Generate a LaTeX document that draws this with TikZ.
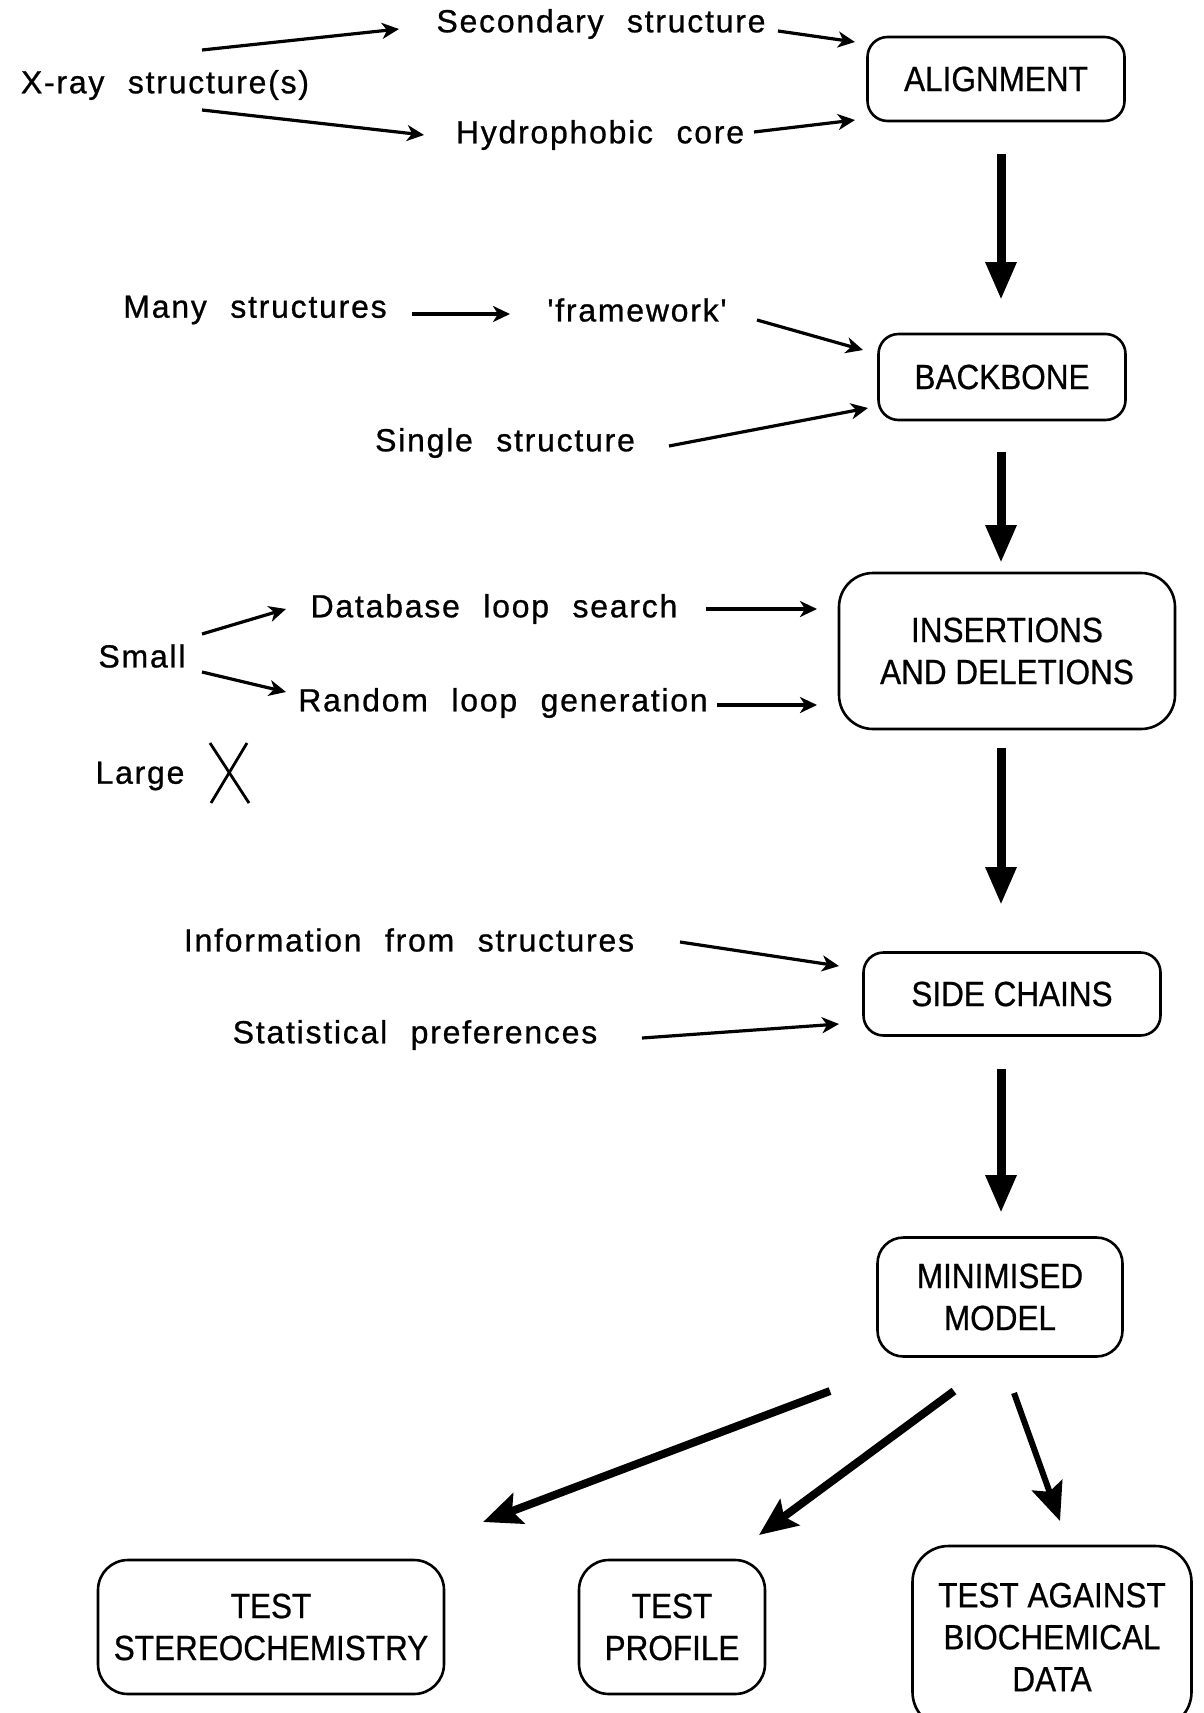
\documentclass[tikz,border=0pt]{standalone}
\usepackage{fontspec}
\setmainfont{Liberation Sans}
\newfontfamily\lblfont[LetterSpace=5.5,WordSpace=2.2,FakeBold=0.8]{Liberation Sans}
\newfontfamily\boxfont[FakeStretch=0.9,FakeBold=0.6]{Liberation Sans}
\usetikzlibrary{arrows.meta}

\begin{document}
\begin{tikzpicture}[x=1pt,y=-1pt,
  lbl/.style={font={\lblfont\fontsize{32}{36}\selectfont}, inner sep=0pt},
  stage/.style={draw, line width=2.6pt, rounded corners=20pt,
    font={\boxfont\fontsize{35}{42}\selectfont}, align=center, inner sep=0pt},
  feed/.style={line width=3.2pt, -{Stealth[length=17pt,width=16pt,inset=5pt]}},
  flow/.style={line width=9pt, -{Triangle[length=38pt,width=29pt]}},
  branch/.style={line width=8pt, -{Stealth[length=38pt,width=32pt,inset=7pt]}},
  cross/.style={line width=2.8pt}
]
\useasboundingbox (0,0) rectangle (1203,1713);
\clip (0,0) rectangle (1203,1713);
\fill[white] (0,0) rectangle (1203,1713);

% main stages
\node[stage, minimum width=257pt, minimum height=84pt] (align) at (996,79) {ALIGNMENT};
\node[stage, minimum width=247pt, minimum height=86pt] (backbone) at (1002,377) {BACKBONE};
\node[stage, minimum width=336pt, minimum height=156pt, rounded corners=34pt] (indel) at (1007,651) {INSERTIONS\\AND DELETIONS};
\node[stage, minimum width=297pt, minimum height=83pt] (side) at (1012,994) {SIDE CHAINS};
\node[stage, minimum width=245pt, minimum height=119pt, rounded corners=26pt] (mini) at (1000,1297) {MINIMISED\\MODEL};
\node[stage, minimum width=346pt, minimum height=134pt, rounded corners=30pt] (stereo) at (271,1627) {TEST\\STEREOCHEMISTRY};
\node[stage, minimum width=186pt, minimum height=134pt, rounded corners=30pt] (profile) at (672,1627) {TEST\\PROFILE};
\node[stage, minimum width=279pt, minimum height=182pt, rounded corners=36pt] (biochem) at (1052,1637) {TEST AGAINST\\BIOCHEMICAL\\DATA};

% input labels
\node[lbl] (xray) at (165,85) {X-ray structure(s)};
\node[lbl] (sec) at (601,24) {Secondary structure};
\node[lbl] (hyd) at (600,135) {Hydrophobic core};
\node[lbl] (many) at (255,310) {Many structures};
\node[lbl] (frame) at (637,310) {'framework'};
\node[lbl] (single) at (505,443) {Single structure};
\node[lbl] (small) at (142,656) {Small};
\node[lbl] (dbl) at (494,609) {Database loop search};
\node[lbl] (rlg) at (503,703) {Random loop generation};
\node[lbl] (large) at (140,776) {Large};
\node[lbl] (info) at (409,940) {Information from structures};
\node[lbl] (stat) at (415,1035) {Statistical preferences};

% arrow end points
\coordinate (xs1) at (202,50);   \coordinate (xs2) at (399,29);
\coordinate (sa1) at (778,31);   \coordinate (sa2) at (855,42);
\coordinate (xh1) at (202,110);  \coordinate (xh2) at (424,135);
\coordinate (ha1) at (754,132);  \coordinate (ha2) at (855,120);
\coordinate (mf1) at (412,314);  \coordinate (mf2) at (510,314);
\coordinate (fb1) at (757,320);  \coordinate (fb2) at (863,350);
\coordinate (sb1) at (669,446);  \coordinate (sb2) at (868,408);
\coordinate (sd1) at (202,634);  \coordinate (sd2) at (286,609);
\coordinate (sr1) at (202,672);  \coordinate (sr2) at (286,692);
\coordinate (di1) at (706,609);  \coordinate (di2) at (817,609);
\coordinate (ri1) at (717,705);  \coordinate (ri2) at (817,705);
\coordinate (is1) at (680,942);  \coordinate (is2) at (839,966);
\coordinate (ss1) at (642,1038); \coordinate (ss2) at (839,1024);
\coordinate (f11) at (1001,154); \coordinate (f12) at (1001,300);
\coordinate (f21) at (1001,452); \coordinate (f22) at (1001,563);
\coordinate (f31) at (1001,748); \coordinate (f32) at (1001,905);
\coordinate (f41) at (1001,1069);\coordinate (f42) at (1001,1213);
\coordinate (b11) at (830,1391); \coordinate (b12) at (483,1522);
\coordinate (b21) at (954,1391); \coordinate (b22) at (759,1535);
\coordinate (b31) at (1014,1393);\coordinate (b32) at (1060,1521);

% feeding arrows
\draw[feed] (xs1) -- (xs2);
\draw[feed] (sa1) -- (sa2);
\draw[feed] (xh1) -- (xh2);
\draw[feed] (ha1) -- (ha2);
\draw[feed] (mf1) -- (mf2);
\draw[feed] (fb1) -- (fb2);
\draw[feed] (sb1) -- (sb2);
\draw[feed] (sd1) -- (sd2);
\draw[feed] (sr1) -- (sr2);
\draw[feed] (di1) -- (di2);
\draw[feed] (ri1) -- (ri2);
\draw[feed] (is1) -- (is2);
\draw[feed] (ss1) -- (ss2);

% cross next to "Large"
\coordinate (xa) at (210,743); \coordinate (xb) at (249,803);
\coordinate (xc) at (247,743); \coordinate (xd) at (211,803);
\draw[cross] (xa) -- (xb);
\draw[cross] (xc) -- (xd);

% main flow
\draw[flow] (f11) -- (f12);
\draw[flow] (f21) -- (f22);
\draw[flow] (f31) -- (f32);
\draw[flow] (f41) -- (f42);

% final tests
\draw[branch] (b11) -- (b12);
\draw[branch] (b21) -- (b22);
\draw[branch, line width=6pt] (b31) -- (b32);
\end{tikzpicture}
\end{document}
